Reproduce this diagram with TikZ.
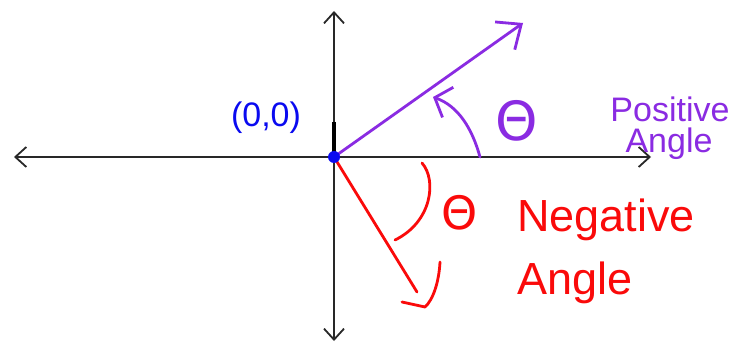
\documentclass[tikz,border=0pt]{standalone}
\usepackage{fontspec}
\setmainfont{Liberation Sans}
\newfontfamily\symfont{DejaVu Sans}
\usetikzlibrary{arrows.meta}
\definecolor{vio}{RGB}{138,43,226}
\definecolor{pred}{RGB}{250,10,10}
\definecolor{pblue}{RGB}{10,10,240}
\definecolor{axisgray}{RGB}{40,40,40}
\begin{document}
\begin{tikzpicture}[x=1pt,y=-1pt,
  axis/.style={line width=1.8pt, draw=axisgray,
    {Straight Barb[length=11pt,width=20pt,line width=1.8pt]}-{Straight Barb[length=11pt,width=20pt,line width=1.8pt]}},
  pen/.style={line width=2.8pt, line cap=round, line join=round},
  lbl/.style={inner sep=0pt, outer sep=0pt}]
\useasboundingbox (0,0) rectangle (733,344);
\fill[white] (0,0) rectangle (733,344);
% axes
\coordinate (O) at (334,157);
\coordinate (L) at (14,157);
\coordinate (R) at (651,157);
\coordinate (T) at (334,11);
\coordinate (B) at (334,341);
\draw[axis] (L) -- (R);
\draw[axis] (B) -- (T);
\coordinate (K) at (334,122);
\draw[line width=4.5pt] (K) -- (O);
% positive angle
\coordinate (P) at (523,23);
\draw[pen, vio, -{Straight Barb[length=20pt,width=34pt,line width=2.8pt]}] (O) -- (P);
\coordinate (A1) at (480,157);
\coordinate (A2) at (433,97);
\draw[pen, vio, -{Straight Barb[length=14pt,width=32pt,line width=2.8pt]}]
  (A1) .. controls (472,128) and (458,106) .. (A2);
\node[lbl, vio, font=\symfont\fontsize{54}{54}\selectfont] (th1) at (517,121) {Θ};
\node[lbl, vio, font=\fontsize{34}{34}\selectfont, anchor=base] (pos1) at (670,122) {Positive};
\node[lbl, vio, font=\fontsize{34}{34}\selectfont, anchor=base] (pos2) at (669,153) {Angle};
% origin
\node[lbl, pblue, font=\fontsize{34}{34}\selectfont] (org) at (266,118) {(0,0)};
% negative angle
\coordinate (N) at (417,292);
\draw[pen, pred] (O) -- (N);
\coordinate (H1) at (440,262);
\coordinate (H2) at (425,307);
\coordinate (H3) at (402,302);
\draw[pen, pred] (H1) .. controls (439,282) and (433,300) .. (H2) -- (H3);
\coordinate (C1) at (422,163);
\coordinate (C2) at (395,240);
\draw[pen, pred] (C1) .. controls (437,180) and (432,222) .. (C2);
\node[lbl, pred, font=\symfont\fontsize{46}{46}\selectfont] (th2) at (460,213) {Θ};
\node[lbl, pred, font=\fontsize{45}{45}\selectfont, anchor=base west] (neg1) at (517,232) {Negative};
\node[lbl, pred, font=\fontsize{45}{45}\selectfont, anchor=base west] (neg2) at (517,295) {Angle};
% origin dot
\fill[pblue] (O) circle (6pt);
\end{tikzpicture}
\end{document}
